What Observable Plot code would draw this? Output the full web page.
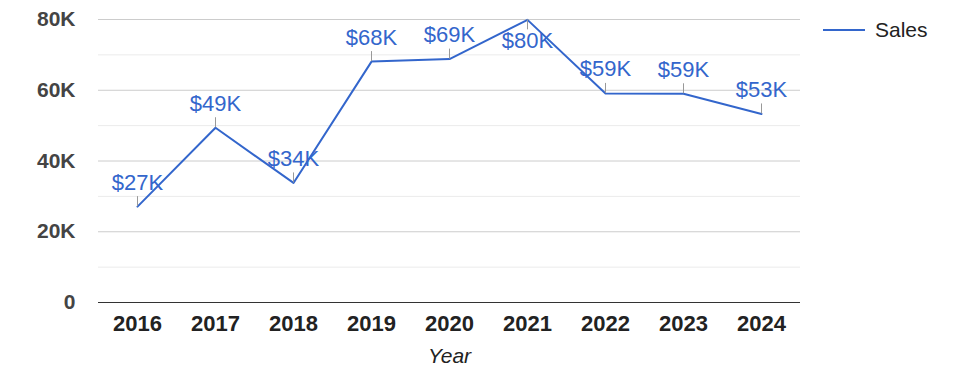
<!DOCTYPE html>
<html>
<head>
<meta charset="utf-8">
<script src="https://cdn.jsdelivr.net/npm/d3@7"></script>
<script src="https://cdn.jsdelivr.net/npm/@observablehq/plot@0.6"></script>
<style>
  html, body { margin: 0; padding: 0; background: #fff; }
  #wrap { position: relative; width: 975px; height: 378px; font-family: Arial, "Liberation Sans", sans-serif; }
  #legend { position: absolute; left: 823px; top: 17px; display: flex; align-items: center; font-size: 21px; color: #222; }
  #legend svg { margin-right: 10px; }
</style>
</head>
<body>
<div id="wrap"><div id="legend"></div></div>
<script>
const years = ["2016", "2017", "2018", "2019", "2020", "2021", "2022", "2023", "2024"];
const sales = [27100, 49400, 33800, 68100, 68800, 79900, 59100, 59000, 53300];
const seriesName = "Sales";
const yMajorTicks = [0, 20000, 40000, 60000, 80000];
const yMinorTicks = [10000, 30000, 50000, 70000];
const xTitle = "Year";

const blue = "#3366cc";
const font = "Arial, 'Liberation Sans', sans-serif";
const yMax = 80000;

const data = years.map((year, i) => ({year, value: sales[i]}));
const fmt = v => "$" + Math.round(v / 1000) + "K";
const isBelow = d => d.value > yMax * 0.95;
const above = data.filter(d => !isBelow(d));
const below = data.filter(isBelow);

const chart = Plot.plot({
  width: 975,
  height: 378,
  marginLeft: 98,
  marginRight: 175,
  marginTop: 19,
  marginBottom: 76,
  style: {fontFamily: font, background: "#fff", overflow: "visible"},
  x: {type: "point", domain: years, padding: 0.5},
  y: {domain: [0, yMax]},
  marks: [
    Plot.ruleY(yMinorTicks, {stroke: "#ebebeb", strokeWidth: 1}),
    Plot.ruleY(yMajorTicks.filter(d => d !== 0), {stroke: "#cccccc", strokeWidth: 1}),
    Plot.axisY({ticks: yMajorTicks, tickSize: 0, tickPadding: 23, label: null,
      tickFormat: d => d === 0 ? "0" : (d / 1000) + "K",
      fontSize: 21, fontWeight: "bold", fill: "#444"}),
    Plot.axisX({tickSize: 0, tickPadding: 13, label: null,
      fontSize: 22, fontWeight: "bold", fill: "#222"}),
    Plot.ruleY([0], {stroke: "#333", strokeWidth: 1}),
    Plot.line(data, {x: "year", y: "value", stroke: blue, strokeWidth: 2}),
    Plot.ruleX(above, {x: "year", y1: "value", y2: "value", insetTop: 0, insetBottom: 10, stroke: "#999", strokeWidth: 1}),
    Plot.ruleX(below, {x: "year", y1: "value", y2: "value", insetTop: 10, insetBottom: 0, stroke: "#999", strokeWidth: 1}),
    Plot.text(above, {x: "year", y: "value", text: d => fmt(d.value), dy: -24, lineAnchor: "middle", fill: blue, fontSize: 22}),
    Plot.text(below, {x: "year", y: "value", text: d => fmt(d.value), dy: 21, lineAnchor: "middle", fill: blue, fontSize: 22}),
    Plot.text([xTitle], {frameAnchor: "bottom", text: d => d, dy: 60, lineAnchor: "bottom", fontSize: 21, fontStyle: "italic", fill: "#222"})
  ]
});

const wrap = document.getElementById("wrap");
wrap.insertBefore(chart, wrap.firstChild);
chart.style.position = "absolute";
chart.style.left = "0px";
chart.style.top = "0px";

const legend = document.getElementById("legend");
legend.innerHTML = `<svg width="42" height="26"><line x1="0" x2="42" y1="13" y2="13" stroke="${blue}" stroke-width="2"/></svg><span>${seriesName}</span>`;
</script>
</body>
</html>
